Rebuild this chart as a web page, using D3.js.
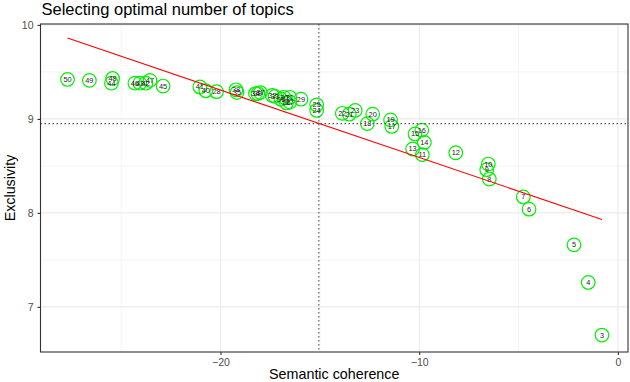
<!DOCTYPE html>
<html>
<head>
<meta charset="utf-8">
<script src="https://cdn.jsdelivr.net/npm/d3@7"></script>
<style>
  html, body { margin: 0; padding: 0; background: #fff; }
  svg { display: block; font-family: "Liberation Sans", Arial, Helvetica, sans-serif; }
</style>
</head>
<body>
<svg id="chart" width="630" height="382"></svg>
<script>
// ---- data ----
const topics = [50, 49, 48, 44, 46, 43, 42, 47, 45, 41, 40, 28, 38, 35, 34, 39, 37, 32, 33, 30, 36, 31, 26, 27, 29,
                25, 24, 22, 21, 23, 20, 18, 19, 17, 15, 16, 14, 13, 11, 12, 10, 9, 8, 7, 6, 5, 4, 3];
const semcoh = [-27.70, -26.60, -25.43, -25.49, -24.31, -24.06, -23.76, -23.55, -22.89, -21.04, -20.74, -20.20, -19.22, -19.17,
                -18.24, -18.12, -17.99, -17.39, -17.26, -16.81, -16.96, -16.51, -16.68, -16.51, -15.95,
                -15.16, -15.16, -13.87, -13.52, -13.22, -12.34, -12.61, -11.44, -11.38, -10.21, -9.87, -9.74, -10.33, -9.84, -8.16,
                -6.52, -6.60, -6.47, -4.76, -4.47, -2.21, -1.49, -0.80];
const exclus = [9.42, 9.41, 9.43, 9.38, 9.38, 9.38, 9.38, 9.41, 9.35, 9.34, 9.30, 9.29, 9.31, 9.28,
                9.27, 9.27, 9.28, 9.25, 9.24, 9.23, 9.21, 9.23, 9.17, 9.18, 9.21,
                9.15, 9.09, 9.06, 9.05, 9.09, 9.05, 8.95, 8.99, 8.92, 8.84, 8.88, 8.75, 8.68, 8.62, 8.64,
                8.52, 8.46, 8.36, 8.17, 8.04, 7.66, 7.26, 6.70];
const fitX = [-27.70, -0.80];
const fitY = [9.86, 7.93];
const meanX = -15.05;
const meanY = 8.95;
const xTicks = [-20, -10, 0];
const yTicks = [7, 8, 9, 10];
const xMinor = [-25, -15, -5];
const yMinor = [7.5, 8.5, 9.5];

// ---- layout ----
const svg = d3.select("#chart");
const L = 40.5, R = 628, T = 24, B = 352;

const x = d3.scaleLinear().domain([-29.06, 0.51]).range([L, R]);
const y = d3.scaleLinear().domain([6.52, 10.01]).range([B, T]);

svg.append("rect").attr("x", 0).attr("y", 0).attr("width", 630).attr("height", 382).attr("fill", "#fff");

const grid = svg.append("g");
grid.selectAll(".xminor").data(xMinor).join("line")
  .attr("x1", d => x(d)).attr("x2", d => x(d)).attr("y1", T).attr("y2", B)
  .attr("stroke", "#EBEBEB").attr("stroke-width", 0.55);
grid.selectAll(".yminor").data(yMinor).join("line")
  .attr("y1", d => y(d)).attr("y2", d => y(d)).attr("x1", L).attr("x2", R)
  .attr("stroke", "#EBEBEB").attr("stroke-width", 0.55);
grid.selectAll(".xmajor").data(xTicks).join("line")
  .attr("x1", d => x(d)).attr("x2", d => x(d)).attr("y1", T).attr("y2", B)
  .attr("stroke", "#EBEBEB").attr("stroke-width", 1.1);
grid.selectAll(".ymajor").data(yTicks).join("line")
  .attr("y1", d => y(d)).attr("y2", d => y(d)).attr("x1", L).attr("x2", R)
  .attr("stroke", "#EBEBEB").attr("stroke-width", 1.1);

// points
const pts = d3.range(topics.length).map(i => ({k: topics[i], x: semcoh[i], y: exclus[i]}));
svg.append("g").selectAll("circle").data(pts).join("circle")
  .attr("cx", d => x(d.x)).attr("cy", d => y(d.y)).attr("r", 6.8)
  .attr("fill", "none").attr("stroke", "#00F000").attr("stroke-width", 1.2);
svg.append("g").selectAll("text").data(pts).join("text")
  .attr("x", d => x(d.x)).attr("y", d => y(d.y) + 2.5)
  .attr("text-anchor", "middle").attr("font-size", 7.4).attr("fill", "#222")
  .text(d => d.k);

// fitted line
svg.append("line")
  .attr("x1", x(fitX[0])).attr("y1", y(fitY[0])).attr("x2", x(fitX[1])).attr("y2", y(fitY[1]))
  .attr("stroke", "#FF0000").attr("stroke-width", 1.1);

// mean reference lines
svg.append("line").attr("x1", x(meanX)).attr("x2", x(meanX)).attr("y1", T).attr("y2", B)
  .attr("stroke", "#555").attr("stroke-width", 1.1).attr("stroke-dasharray", "1.5,2.5");
svg.append("line").attr("y1", y(meanY)).attr("y2", y(meanY)).attr("x1", L).attr("x2", R)
  .attr("stroke", "#555").attr("stroke-width", 1.1).attr("stroke-dasharray", "1.5,2.5");

// panel border
svg.append("rect").attr("x", L).attr("y", T).attr("width", R - L).attr("height", B - T)
  .attr("fill", "none").attr("stroke", "#333").attr("stroke-width", 1.1);

// axes
const xAxis = svg.append("g").attr("transform", `translate(0,${B})`)
  .call(d3.axisBottom(x).tickValues(xTicks).tickSize(3).tickPadding(4).tickFormat(d => d === 0 ? "0" : "\u2212" + Math.abs(d)));
const yAxis = svg.append("g").attr("transform", `translate(${L},0)`)
  .call(d3.axisLeft(y).tickValues(yTicks).tickSize(3).tickPadding(4).tickFormat(d3.format("d")));
[xAxis, yAxis].forEach(a => {
  a.select(".domain").remove();
  a.selectAll(".tick line").attr("stroke", "#333").attr("stroke-width", 1.1);
  a.selectAll(".tick text").attr("fill", "#4D4D4D").attr("font-size", 10.5)
    .attr("font-family", "Liberation Sans, Arial, sans-serif");
});

// titles
svg.append("text").attr("x", 41.5).attr("y", 15).attr("font-size", 16.5).attr("fill", "#000")
  .text("Selecting optimal number of topics");
svg.append("text").attr("x", (L + R) / 2).attr("y", 379).attr("text-anchor", "middle")
  .attr("font-size", 14.3).attr("fill", "#000").text("Semantic coherence");
svg.append("text").attr("transform", `translate(15,${(T + B) / 2}) rotate(-90)`)
  .attr("text-anchor", "middle").attr("font-size", 14.3).attr("fill", "#000").text("Exclusivity");
</script>
</body>
</html>
